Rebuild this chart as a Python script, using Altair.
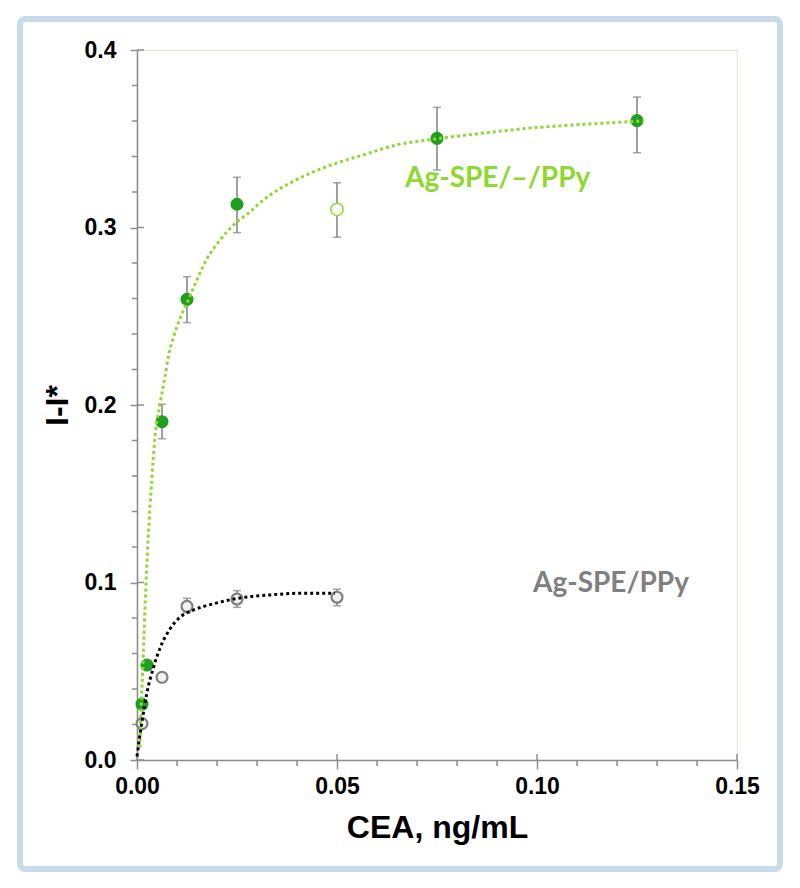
import altair as alt
import pandas as pd

# ---------------- data ----------------
# Ag-SPE/–/PPy (filled green points)
g_x = [0.00125, 0.0025, 0.00625, 0.0125, 0.025, 0.075, 0.125]
g_y = [0.0315, 0.0535, 0.1906, 0.2595, 0.3131, 0.3502, 0.3602]
# error bars for the green series
g_err_x = [0.00625, 0.0125, 0.025, 0.075, 0.125]
g_err_lo = [0.1810, 0.2464, 0.2971, 0.3324, 0.3421]
g_err_hi = [0.2004, 0.2723, 0.3283, 0.3677, 0.3735]
# open green point (outlier)
go_x = [0.05]
go_y = [0.3102]
go_lo = [0.2945]
go_hi = [0.3252]

# Ag-SPE/PPy (open grey points)
k_x = [0.00125, 0.00625, 0.0125, 0.025, 0.05]
k_y = [0.0205, 0.0466, 0.0866, 0.0907, 0.0917]
k_err_x = [0.0125, 0.025, 0.05]
k_err_lo = [0.0830, 0.0860, 0.0869]
k_err_hi = [0.0911, 0.0954, 0.0962]

# fitted curves
gc_x = [0.00075, 0.0009, 0.0014, 0.0020, 0.0028, 0.0037, 0.0045, 0.0058, 0.0070,
        0.0078, 0.0091, 0.0108, 0.0128, 0.0149, 0.0174, 0.0208, 0.0249, 0.0278,
        0.0316, 0.0399, 0.0483, 0.0567, 0.0649, 0.0751, 0.0858, 0.0983, 0.1108, 0.1266]
gc_y = [0.007, 0.021, 0.049, 0.086, 0.125, 0.158, 0.182, 0.201, 0.216,
        0.227, 0.238, 0.249, 0.259, 0.270, 0.282, 0.293, 0.303, 0.308,
        0.3155, 0.327, 0.335, 0.341, 0.3465, 0.350, 0.353, 0.356, 0.358, 0.360]
kc_x = [0.0, 0.0006, 0.0012, 0.0024, 0.0041, 0.00575, 0.0083, 0.0108, 0.0141,
        0.0191, 0.025, 0.0333, 0.0416, 0.0495]
kc_y = [0.002, 0.012, 0.021, 0.037, 0.052, 0.063, 0.074, 0.0805, 0.0845,
        0.088, 0.091, 0.093, 0.094, 0.094]

# tick values
x_ticks = [0.0, 0.05, 0.10, 0.15]
y_ticks = [0.0, 0.1, 0.2, 0.3, 0.4]
x_minor = [0.01, 0.02, 0.03, 0.04, 0.06, 0.07, 0.08, 0.09, 0.11, 0.12, 0.13, 0.14]
y_minor = [0.02, 0.04, 0.06, 0.08, 0.12, 0.14, 0.16, 0.18, 0.22, 0.24, 0.26,
           0.28, 0.32, 0.34, 0.36, 0.38]

# annotations
lab_text = ["Ag-SPE/\u2013/PPy", "Ag-SPE/PPy"]
lab_x = [0.067, 0.099]
lab_y = [0.323, 0.0946]

# ---------------- styling ----------------
GREEN_DARK = "#1f9e1f"
GREEN_LIGHT = "#8ed92f"
GREY = "#808080"
AXIS_GREY = "#8c8c8c"
FONT = "Liberation Sans"

W, H = 600, 710
xs = alt.Scale(domain=[0, 0.15], nice=False, zero=False)
ys = alt.Scale(domain=[0, 0.4], nice=False, zero=False)

x_axis = alt.Axis(values=x_ticks, format=".2f", title="CEA, ng/mL", grid=False,
                  tickSize=9, labelPadding=6, titlePadding=14,
                  labelFlush=False, labelOverlap=False)
y_axis = alt.Axis(values=y_ticks, format=".1f", title="I-I*", grid=False,
                  tickSize=7, labelPadding=14, titlePadding=10,
                  labelFlush=False, labelOverlap=False)

X = lambda f: alt.X(f, type="quantitative", scale=xs, axis=x_axis)
Y = lambda f: alt.Y(f, type="quantitative", scale=ys, axis=y_axis)

df_g = pd.DataFrame({"x": g_x, "y": g_y})
df_ge = pd.DataFrame({"x": g_err_x, "lo": g_err_lo, "hi": g_err_hi})
df_go = pd.DataFrame({"x": go_x, "y": go_y})
df_goe = pd.DataFrame({"x": go_x, "lo": go_lo, "hi": go_hi})
df_k = pd.DataFrame({"x": k_x, "y": k_y})
df_ke = pd.DataFrame({"x": k_err_x, "lo": k_err_lo, "hi": k_err_hi})
df_gc = pd.DataFrame({"x": gc_x, "y": gc_y})
df_kc = pd.DataFrame({"x": kc_x, "y": kc_y})

# frame around the whole figure
frame = alt.Chart(pd.DataFrame({"k": [0]})).mark_rect(
    fillOpacity=0, stroke="#c8dbeb", strokeWidth=6, cornerRadius=5, clip=False
).encode(x=alt.value(-117), x2=alt.value(643), y=alt.value(-31), y2=alt.value(819))

# inner parts of major ticks and minor ticks
x_in = alt.Chart(pd.DataFrame({"x": x_ticks})).mark_rule(color=AXIS_GREY, strokeWidth=1.5).encode(
    x=X("x"), y=alt.value(H - 6), y2=alt.value(H))
y_in = alt.Chart(pd.DataFrame({"y": y_ticks})).mark_rule(color=AXIS_GREY, strokeWidth=1.5).encode(
    y=Y("y"), x=alt.value(0), x2=alt.value(7))
x_mn = alt.Chart(pd.DataFrame({"x": x_minor})).mark_rule(color=AXIS_GREY, strokeWidth=1.5).encode(
    x=X("x"), y=alt.value(H), y2=alt.value(H + 6))
y_mn = alt.Chart(pd.DataFrame({"y": y_minor})).mark_rule(color=AXIS_GREY, strokeWidth=1.5).encode(
    y=Y("y"), x=alt.value(-5), x2=alt.value(0))


def errbars(df):
    bar = alt.Chart(df).mark_rule(color=GREY, strokeWidth=1.5).encode(
        x=X("x"), y=Y("lo"), y2="hi")
    cap_lo = alt.Chart(df).mark_tick(color=GREY, orient="horizontal", size=8, thickness=1.5).encode(
        x=X("x"), y=Y("lo"))
    cap_hi = alt.Chart(df).mark_tick(color=GREY, orient="horizontal", size=8, thickness=1.5).encode(
        x=X("x"), y=Y("hi"))
    return bar + cap_lo + cap_hi


pts_g = alt.Chart(df_g).mark_point(filled=True, size=170, color=GREEN_DARK, opacity=1).encode(
    x=X("x"), y=Y("y"))
pts_go = alt.Chart(df_go).mark_point(filled=False, size=150, stroke=GREEN_LIGHT, fill="white",
                                     fillOpacity=1, strokeWidth=1.5, opacity=1).encode(
    x=X("x"), y=Y("y"))
pts_k = alt.Chart(df_k).mark_point(filled=False, size=120, stroke=GREY, fill="#f2f2f2",
                                   fillOpacity=1, strokeWidth=2.2, opacity=1).encode(
    x=X("x"), y=Y("y"))

curve_g = alt.Chart(df_gc).mark_line(color=GREEN_LIGHT, strokeWidth=3, strokeDash=[3, 3],
                                     interpolate="monotone").encode(x=X("x"), y=Y("y"), order="x:Q")
curve_k = alt.Chart(df_kc).mark_line(color="black", strokeWidth=3, strokeDash=[3, 3],
                                     interpolate="monotone").encode(x=X("x"), y=Y("y"), order="x:Q")

df_lab = pd.DataFrame({"t": lab_text, "x": lab_x, "y": lab_y, "c": [GREEN_LIGHT, GREY]})
labels = alt.Chart(df_lab).mark_text(font="Lato", fontWeight="bold", fontSize=28,
                                     align="left", baseline="alphabetic").encode(
    x=X("x"), y=Y("y"), text="t:N", color=alt.Color("c:N", scale=None))

chart = alt.layer(
    frame, x_in, y_in, x_mn, y_mn,
    errbars(df_ge), errbars(df_goe), errbars(df_ke),
    pts_g, pts_go, pts_k,
    curve_g, curve_k, labels,
).properties(
    width=W, height=H,
    autosize=alt.AutoSizeParams(type="none"),
    padding={"left": 129, "top": 42, "right": 55, "bottom": 120},
    background="white",
).configure_view(
    stroke="#ebe7d3", strokeWidth=1.2
).configure_axis(
    domainColor=AXIS_GREY, domainWidth=1.5, tickColor=AXIS_GREY, tickWidth=1.5,
    labelFont=FONT, labelFontWeight="bold", labelFontSize=23, labelColor="black",
    titleFont=FONT, titleFontWeight="bold", titleFontSize=32, titleColor="black",
)

chart.save("out.html", embed_options={"renderer": "svg", "actions": False})
